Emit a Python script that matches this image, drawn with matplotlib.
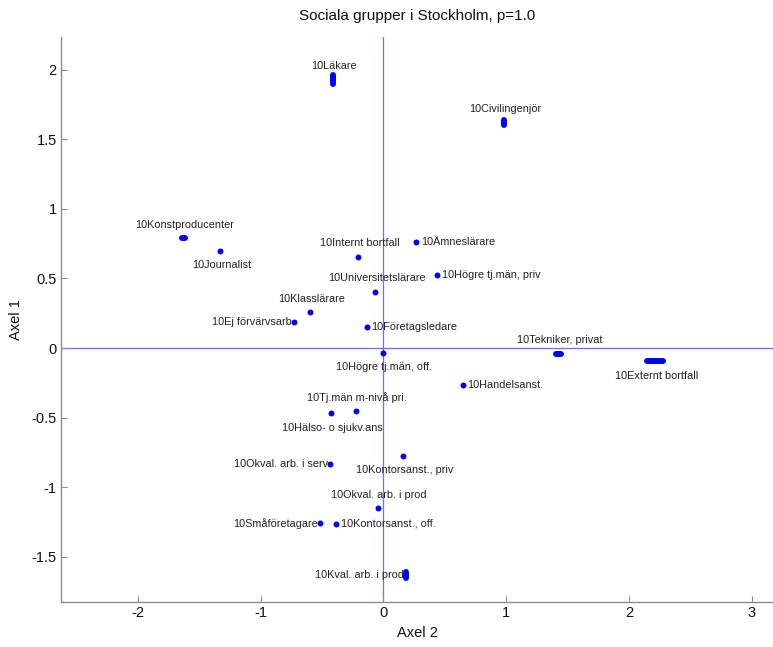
import matplotlib
matplotlib.use("Agg")
import matplotlib.pyplot as plt

plt.rcParams["font.family"] = ["Liberation Sans", "DejaVu Sans"]

# Coordinates of the social groups on the first two axes
groups = [
    "10Läkare", "10Civilingenjör", "10Konstproducenter", "10Journalist",
    "10Internt bortfall", "10Ämneslärare", "10Universitetslärare",
    "10Högre tj.män, priv", "10Klasslärare", "10Ej förvärvsarb",
    "10Företagsledare", "10Tekniker, privat", "10Externt bortfall",
    "10Högre tj.män, off.", "10Handelsanst.", "10Tj.män m-nivå pri.",
    "10Hälso- o sjukv.ans", "10Kontorsanst., priv", "10Okval. arb. i serv",
    "10Okval. arb. i prod", "10Småföretagare", "10Kontorsanst., off.",
    "10Kval. arb. i prod",
]
axel2 = [-0.411, 0.984, -1.628, -1.330, -0.208, 0.265, -0.067, 0.433,
         -0.599, -0.727, -0.137, 1.428, 2.212, -0.007, 0.645, -0.226,
         -0.428, 0.161, -0.436, -0.047, -0.517, -0.387, 0.183]
axel1 = [1.930, 1.621, 0.789, 0.700, 0.657, 0.760, 0.406, 0.523,
         0.260, 0.188, 0.152, -0.040, -0.093, -0.035, -0.265, -0.450,
         -0.470, -0.774, -0.833, -1.150, -1.261, -1.263, -1.630]
# Half-range of the resampled positions around each group
spread2 = [0, 0, 0.012, 0, 0, 0, 0, 0, 0, 0, 0, 0.022, 0.065,
           0, 0, 0, 0, 0, 0, 0, 0, 0, 0]
spread1 = [0.033, 0.020, 0, 0, 0, 0, 0, 0, 0, 0, 0, 0, 0,
           0, 0, 0, 0, 0, 0, 0, 0, 0, 0.023]

title = "Sociala grupper i Stockholm, p=1.0"
xticks = [-2, -1, 0, 1, 2, 3]
yticks = [-1.5, -1, -0.5, 0, 0.5, 1, 1.5, 2]

# where each label sits relative to its point
side = {
    "10Läkare": "above", "10Civilingenjör": "above",
    "10Konstproducenter": "above", "10Journalist": "below",
    "10Internt bortfall": "above", "10Ämneslärare": "right",
    "10Universitetslärare": "above", "10Högre tj.män, priv": "right",
    "10Klasslärare": "above", "10Ej förvärvsarb": "left",
    "10Företagsledare": "right", "10Tekniker, privat": "above",
    "10Externt bortfall": "below", "10Högre tj.män, off.": "below",
    "10Handelsanst.": "right", "10Tj.män m-nivå pri.": "above",
    "10Hälso- o sjukv.ans": "below", "10Kontorsanst., priv": "below",
    "10Okval. arb. i serv": "left", "10Okval. arb. i prod": "above",
    "10Småföretagare": "left", "10Kontorsanst., off.": "right",
    "10Kval. arb. i prod": "left",
}
offsets = {
    "above": ((1, 9.5), "center", "center"),
    "below": ((1, -10.5), "center", "center"),
    "right": ((3.5, 0), "left", "center"),
    "left": ((-1.5, 0), "right", "center"),
}

W, H = 773, 647
fig = plt.figure(figsize=(W / 100, H / 100), dpi=100)
ax = fig.add_axes([61 / W, (H - 602) / H, 1 - 61 / W, (602 - 37) / H])

ax.set_xlim(-2.627, 3.173)
ax.set_ylim(-1.826, 2.236)

ref = "#6f6fff"
ax.axhline(0, color=ref, lw=0.9, zorder=1)
ax.axvline(0, color=ref, lw=0.9, zorder=1)

dot = "#0000ff"
dot_size = 4.3
for x, y, s2, s1 in zip(axel2, axel1, spread2, spread1):
    if s2 or s1:
        ax.plot([x - s2, x + s2], [y - s1, y + s1], color=dot, lw=dot_size,
                solid_capstyle="round", zorder=3)
    else:
        ax.plot([x], [y], "o", color=dot, ms=dot_size, mew=0, zorder=3)

for name, x, y in zip(groups, axel2, axel1):
    (dx, dy), ha, va = offsets[side[name]]
    ax.annotate(name, (x, y), xytext=(dx, dy), textcoords="offset points",
                ha=ha, va=va, fontsize=7.8, color="#222222", zorder=2)

ax.set_xticks(xticks)
ax.set_yticks(yticks)
ax.set_xticklabels([f"{t:g}" for t in xticks])
ax.set_yticklabels([f"{t:g}" for t in yticks])

spine_col = "#8c8c8c"
for s in ("top", "right"):
    ax.spines[s].set_visible(False)
for s in ("left", "bottom"):
    ax.spines[s].set_color(spine_col)
    ax.spines[s].set_linewidth(1.0)
ax.tick_params(direction="in", length=4, width=0.8, color=spine_col,
               labelsize=10.5, labelcolor="#111111", pad=3)

ax.set_title(title, fontsize=11, color="#111111", pad=12)
ax.set_xlabel("Axel 2", fontsize=10.5, color="#111111", labelpad=4)
ax.set_ylabel("Axel 1", fontsize=10.5, color="#111111", labelpad=6)

fig.savefig("out.png", dpi=100, facecolor="white")
